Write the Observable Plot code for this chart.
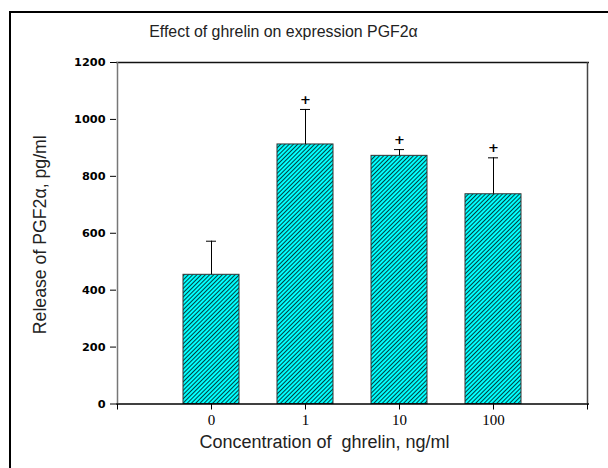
<!DOCTYPE html>
<html>
<head>
<meta charset="utf-8">
<script src="https://cdn.jsdelivr.net/npm/d3@7"></script>
<script src="https://cdn.jsdelivr.net/npm/@observablehq/plot@0.6"></script>
<style>
  html, body { margin: 0; padding: 0; background: #fff; overflow: hidden; }
  #chart { position: absolute; left: 0; top: 0; width: 608px; height: 468px; }
  #chart svg { max-width: none; display: block; }
  svg text { white-space: pre; }
</style>
</head>
<body>
<div id="chart"></div>
<script>
const categories = ["0", "1", "10", "100"];
const means = [454, 912, 872, 737];
const errors = [118, 123, 22, 128];
const signif = ["", "+", "+", "+"];
const yTicks = [0, 200, 400, 600, 800, 1000, 1200];
const title = "Effect of ghrelin on expression PGF2α";
const xTitle = "Concentration of  ghrelin, ng/ml";
const yTitle = "Release of PGF2α, pg/ml";

const edgeStart = "start", edgeEnd = "end";
const xDomain = [edgeStart, ...categories, edgeEnd];
const data = categories.map((c, i) => ({cat: c, mean: means[i], top: means[i] + errors[i], sig: signif[i]}));

const W = 608, H = 468, mL = 116, mR = 19, mT = 62, mB = 64.5;
const step = (W - mL - mR) / (xDomain.length - 1);
const midX = mL + (W - mR - mL) / 2;

const svg = Plot.plot({
  width: W, height: H,
  marginLeft: mL, marginRight: mR, marginTop: mT, marginBottom: mB,
  style: {background: "#fff", overflow: "hidden", maxWidth: "none"},
  x: {type: "band", domain: xDomain, range: [mL - step / 2, W - mR + step / 2],
      paddingInner: 0.4, paddingOuter: 0.2, align: 0.5, axis: null},
  y: {domain: [0, 1200], axis: null},
  marks: [
    Plot.barY(data, {x: "cat", y: "mean", fill: "url(#hatch)", stroke: "#333", strokeWidth: 1}),
    Plot.ruleX(data, {x: "cat", y1: "mean", y2: "top", stroke: "#000", strokeWidth: 1}),
    Plot.tickY(data, {x: "cat", y: "top", stroke: "#000", strokeWidth: 1, insetLeft: 23, insetRight: 23}),
    Plot.text(data.filter(d => d.sig), {x: "cat", y: "top", text: "sig", dy: -10, lineAnchor: "middle",
      fontFamily: "DejaVu Sans", fontWeight: "bold", fontSize: 13, fill: "#000"}),
    // plot frame
    Plot.ruleY([0], {stroke: "#000", strokeWidth: 1.5}),
    Plot.ruleY([1200], {stroke: "#111", strokeWidth: 1.5}),
    Plot.ruleX([edgeStart], {stroke: "#777", strokeWidth: 1.5}),
    Plot.ruleX([edgeEnd], {stroke: "#444", strokeWidth: 1.5}),
    // axes
    Plot.axisY({ticks: yTicks, tickSize: 6, tickPadding: 5, tickFormat: d => String(d),
      fontFamily: "DejaVu Sans", fontWeight: "bold", fontSize: 11.3, stroke: "#000", color: "#000", label: null}),
    Plot.axisX({ticks: xDomain, tickSize: 6, tickPadding: 4.5,
      tickFormat: d => categories.includes(d) ? d : "",
      fontFamily: "Liberation Serif", fontSize: 15, stroke: "#000", color: "#000", label: null}),
    // titles
    Plot.text([title], {frameAnchor: "top", textAnchor: "middle", dx: 283 - midX, dy: -26, lineAnchor: "bottom",
      fontFamily: "Liberation Sans", fontSize: 15.9, fill: "#222"}),
    Plot.text([xTitle], {frameAnchor: "bottom", textAnchor: "middle", dx: 324 - midX, dy: 44, lineAnchor: "bottom",
      fontFamily: "Liberation Sans", fontSize: 18, fill: "#222"}),
    Plot.text([yTitle], {frameAnchor: "left", textAnchor: "middle", rotate: -90, dx: 45 - mL, dy: 1.5, lineAnchor: "bottom",
      fontFamily: "Liberation Sans", fontSize: 17.7, fill: "#222"})
  ]
});

const root = d3.select(svg);
const defs = root.insert("defs", ":first-child");
const pat = defs.append("pattern").attr("id", "hatch").attr("patternUnits", "userSpaceOnUse")
  .attr("width", 3).attr("height", 3).attr("patternTransform", "rotate(45)");
pat.append("rect").attr("width", 3).attr("height", 3).attr("fill", "#00ffff");
pat.append("line").attr("x1", 0.5).attr("y1", 0).attr("x2", 0.5).attr("y2", 3)
  .attr("stroke", "#000").attr("stroke-width", 0.75);
// outer figure border (clipped at right and bottom like the source)
root.append("path").attr("d", `M10,${H + 5}V12H${W + 5}`)
  .attr("fill", "none").attr("stroke", "#000").attr("stroke-width", 2);

document.getElementById("chart").appendChild(svg);
</script>
</body>
</html>
